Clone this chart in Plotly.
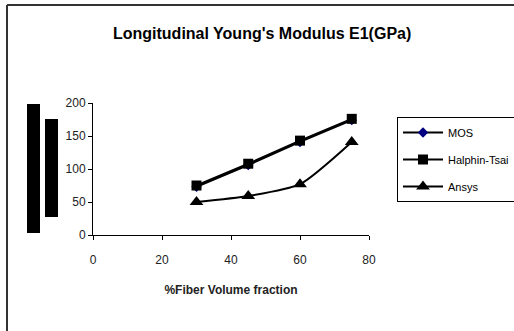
import plotly.graph_objects as go

fiber_fraction = [30, 45, 60, 75]
mos = [73, 106, 141, 174]
halphin_tsai = [75, 108, 143, 176]
ansys = [50, 59, 77, 141]

x_ticks = [0, 20, 40, 60, 80]
y_ticks = [0, 50, 100, 150, 200]

W, H = 514, 331
L, R, T, B = 93, 369, 103, 235  # plot area in pixels


def px(x):
    return (x - L) / (R - L)


def py(y):
    return (B - y) / (B - T)


fig = go.Figure()
fig.add_trace(go.Scatter(
    x=fiber_fraction, y=mos, name="MOS", mode="lines+markers",
    line=dict(color="black", width=2),
    marker=dict(symbol="diamond", size=8, color="#000080"),
    legendgroup="a"))
fig.add_trace(go.Scatter(
    x=fiber_fraction, y=halphin_tsai, name="Halphin-Tsai", mode="lines+markers",
    line=dict(color="black", width=2),
    marker=dict(symbol="square", size=10, color="black"),
    legendgroup="b"))
fig.add_trace(go.Scatter(
    x=fiber_fraction, y=ansys, name="Ansys", mode="lines+markers",
    line=dict(color="black", width=2, shape="spline", smoothing=0.6),
    marker=dict(symbol="triangle-up", size=12, color="black"),
    legendgroup="c"))

axis_font = dict(family="Liberation Sans, Arial, sans-serif", size=12, color="#222")

fig.update_layout(
    width=W, height=H,
    margin=dict(l=L, r=W - R, t=T, b=H - B, autoexpand=False),
    paper_bgcolor="white", plot_bgcolor="white",
    title=dict(text="<b>Longitudinal Young's Modulus E1(GPa)</b>",
               x=0.51, xanchor="center", y=1 - 33 / H, yanchor="middle",
               font=dict(family="Liberation Sans, Arial, sans-serif", size=16, color="black")),
    xaxis=dict(range=[0, 80], tickvals=x_ticks, showline=True, linecolor="black",
               linewidth=1, ticks="outside", ticklen=4, tickcolor="black",
               ticklabelstandoff=10,
               showgrid=False, zeroline=False, tickfont=axis_font,
               title=dict(text="<b>%Fiber Volume fraction</b>", standoff=19,
                          font=dict(family="Liberation Sans, Arial, sans-serif", size=12, color="#222"))),
    yaxis=dict(range=[0, 200], tickvals=y_ticks, showline=True, linecolor="black",
               linewidth=1, ticks="outside", ticklen=4, tickcolor="black",
               showgrid=False, zeroline=False, tickfont=axis_font),
    legend=dict(x=px(397), y=py(117), xanchor="left", yanchor="top",
                bordercolor="black", borderwidth=1, bgcolor="white",
                font=dict(family="Liberation Sans, Arial, sans-serif", size=11, color="black"),
                tracegroupgap=8, itemwidth=40),
    showlegend=True,
)

# outer chart frame (top and left edges visible)
fig.add_shape(type="line", xref="paper", yref="paper",
              x0=px(7), x1=px(516), y0=py(5), y1=py(5),
              line=dict(color="#333", width=2))
fig.add_shape(type="line", xref="paper", yref="paper",
              x0=px(7), x1=px(7), y0=py(5), y1=py(333),
              line=dict(color="#333", width=2))
# redaction blocks over the y-axis title
fig.add_shape(type="rect", xref="paper", yref="paper",
              x0=px(27), x1=px(40), y0=py(104), y1=py(233),
              fillcolor="black", line=dict(width=0))
fig.add_shape(type="rect", xref="paper", yref="paper",
              x0=px(45), x1=px(58), y0=py(119), y1=py(217),
              fillcolor="black", line=dict(width=0))

fig.write_html("out.html")
